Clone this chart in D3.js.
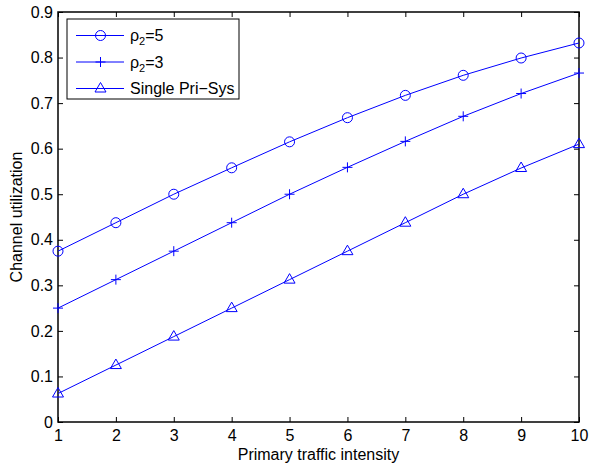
<!DOCTYPE html>
<html>
<head>
<meta charset="utf-8">
<script src="https://cdn.jsdelivr.net/npm/d3@7"></script>
<style>
  body { margin: 0; background: #fff; }
  text { font-family: "Liberation Sans", Arial, sans-serif; fill: #000; }
</style>
</head>
<body>
<div id="container"></div>
<script>
const intensity = [1, 2, 3, 4, 5, 6, 7, 8, 9, 10];
const rho5 = [0.375, 0.4375, 0.5, 0.558, 0.615, 0.668, 0.717, 0.761, 0.799, 0.832];
const rho3 = [0.25, 0.3125, 0.375, 0.4375, 0.5, 0.559, 0.616, 0.671, 0.721, 0.766];
const single = [0.0625, 0.125, 0.1875, 0.25, 0.3125, 0.375, 0.4375, 0.5, 0.5575, 0.61];
const xTicks = [1, 2, 3, 4, 5, 6, 7, 8, 9, 10];
const yTicks = [0, 0.1, 0.2, 0.3, 0.4, 0.5, 0.6, 0.7, 0.8, 0.9];

const w = 590; // canvas width
const h = 463; // canvas height
const padL = 58, padR = 579, padT = 12, padB = 422;
const blue = "#0000ff";

const svg = d3.select("#container")
    .append("svg")
    .attr("width", w)
    .attr("height", h)

const x = d3.scaleLinear().domain([1, 10]).range([padL, padR])
const y = d3.scaleLinear().domain([0, 0.9]).range([padB, padT])

// axes (ticks inside, mirrored)
svg.append("g")
    .attr("transform", `translate(0, ${padB})`)
    .call(d3.axisBottom(x).tickValues(xTicks).tickSize(-5).tickPadding(8).tickFormat(d3.format("d")))
svg.append("g")
    .attr("transform", `translate(0, ${padT})`)
    .call(d3.axisTop(x).tickValues(xTicks).tickSize(-5).tickFormat(""))
svg.append("g")
    .attr("transform", `translate(${padL}, 0)`)
    .call(d3.axisLeft(y).tickValues(yTicks).tickSize(-5).tickPadding(5).tickFormat((d) => d === 0 ? "0" : d3.format(".1f")(d)))
svg.append("g")
    .attr("transform", `translate(${padR}, 0)`)
    .call(d3.axisRight(y).tickValues(yTicks).tickSize(-5).tickFormat(""))

svg.selectAll(".domain").attr("stroke", "none")
svg.selectAll(".tick line").attr("stroke", "#000")
svg.selectAll(".tick text").attr("font-size", 16).attr("fill", "#000")
    .attr("font-family", "'Liberation Sans', Arial, sans-serif")

svg.append("rect")
    .attr("x", padL).attr("y", padT)
    .attr("width", padR - padL).attr("height", padB - padT)
    .attr("fill", "none").attr("stroke", "#000").attr("stroke-width", 1.5)

const line = d3.line().x((d, i) => x(intensity[i])).y((d) => y(d))

const series = [
    { values: rho5, marker: "circle", label: "ρ", sub: "2", tail: "=5" },
    { values: rho3, marker: "plus", label: "ρ", sub: "2", tail: "=3" },
    { values: single, marker: "triangle", label: "Single Pri\u2212Sys" }
]

function drawMarker(g, type, cx, cy) {
    if (type === "circle") {
        g.append("circle").attr("cx", cx).attr("cy", cy).attr("r", 5)
            .attr("fill", "none").attr("stroke", blue)
    } else if (type === "plus") {
        g.append("path").attr("d", `M${cx - 5},${cy}H${cx + 5}M${cx},${cy - 5}V${cy + 5}`)
            .attr("stroke", blue).attr("fill", "none")
    } else {
        g.append("path").attr("d", `M${cx},${cy - 6}L${cx + 5.5},${cy + 3.5}L${cx - 5.5},${cy + 3.5}Z`)
            .attr("stroke", blue).attr("fill", "none")
    }
}

series.forEach((s) => {
    svg.append("path")
        .datum(s.values)
        .attr("d", line)
        .attr("fill", "none")
        .attr("stroke", blue)
        .attr("stroke-width", 1)
    const g = svg.append("g")
    s.values.forEach((v, i) => drawMarker(g, s.marker, x(intensity[i]), y(v)))
})

// legend
const lx = 67, ly = 19, lw = 172, lh = 80;
svg.append("rect")
    .attr("x", lx).attr("y", ly).attr("width", lw).attr("height", lh)
    .attr("fill", "#fff").attr("stroke", "#000")

series.forEach((s, i) => {
    const cy = 35.5 + i * 26.5;
    const g = svg.append("g")
    g.append("line").attr("x1", 76).attr("x2", 124).attr("y1", cy).attr("y2", cy)
        .attr("stroke", blue)
    drawMarker(g, s.marker, 100.5, cy)
    const t = g.append("text").attr("x", 130).attr("y", cy + 5.5).attr("font-size", 16)
    t.append("tspan").text(s.label)
    if (s.sub) {
        t.append("tspan").attr("font-size", 11).attr("dy", 4).text(s.sub)
        t.append("tspan").attr("dy", -4).text(s.tail)
    }
})

// axis labels
svg.append("text")
    .attr("x", (padL + padR) / 2).attr("y", 460)
    .attr("text-anchor", "middle").attr("font-size", 16)
    .text("Primary traffic intensity")
svg.append("text")
    .attr("transform", `translate(22, ${(padT + padB) / 2}) rotate(-90)`)
    .attr("text-anchor", "middle").attr("font-size", 16)
    .text("Channel utilization")
</script>
</body>
</html>
